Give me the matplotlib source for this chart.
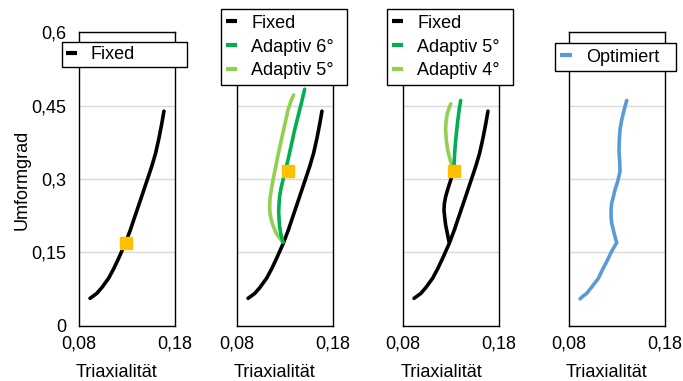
import matplotlib
matplotlib.use("Agg")
import matplotlib.pyplot as plt
from matplotlib.lines import Line2D

plt.rcParams['font.family'] = ['Liberation Sans', 'DejaVu Sans']
FS = 13

# ---- data (Triaxialität, Umformgrad) ----
fixed_x = [0.0915, 0.0950, 0.0985, 0.1038, 0.1108, 0.1160, 0.1213, 0.1283, 0.1335,
           0.1388, 0.1440, 0.1510, 0.1556, 0.1598, 0.1632, 0.1660, 0.1685]
fixed_y = [0.056, 0.061, 0.066, 0.078, 0.097, 0.116, 0.138, 0.169, 0.196,
           0.227, 0.257, 0.298, 0.325, 0.353, 0.383, 0.411, 0.439]

adapt6_x = [0.1279, 0.1258, 0.1244, 0.1238, 0.1234, 0.1238, 0.1244, 0.1258, 0.1279,
            0.1304, 0.1331, 0.1366, 0.1401, 0.1435, 0.1470, 0.1505]
adapt6_y = [0.171, 0.186, 0.203, 0.220, 0.233, 0.250, 0.264, 0.281, 0.298,
            0.319, 0.339, 0.370, 0.401, 0.428, 0.455, 0.484]

adapt5_x = [0.1279, 0.1244, 0.1210, 0.1179, 0.1158, 0.1144, 0.1140, 0.1144, 0.1158,
            0.1175, 0.1203, 0.1231, 0.1262, 0.1297, 0.1331, 0.1366, 0.1390]
adapt5_y = [0.171, 0.179, 0.189, 0.203, 0.216, 0.230, 0.244, 0.261, 0.278,
            0.298, 0.325, 0.353, 0.380, 0.411, 0.441, 0.462, 0.472]

# panel 3: 6° path up to the switch point, then 5° / 4°
adapt6s_x = [0.1279, 0.1262, 0.1244, 0.1234, 0.1227, 0.1231, 0.1244, 0.1269, 0.1297, 0.1321]
adapt6s_y = [0.172, 0.189, 0.206, 0.223, 0.237, 0.250, 0.264, 0.281, 0.298, 0.315]
adapt5b_x = [0.1325, 0.1331, 0.1338, 0.1349, 0.1363, 0.1376, 0.1387, 0.1401]
adapt5b_y = [0.315, 0.325, 0.353, 0.380, 0.407, 0.428, 0.445, 0.461]
adapt4_x = [0.1325, 0.1314, 0.1286, 0.1265, 0.1251, 0.1244, 0.1248, 0.1262, 0.1279, 0.1297]
adapt4_y = [0.315, 0.325, 0.343, 0.360, 0.380, 0.401, 0.418, 0.435, 0.445, 0.454]

opt_x = [0.0915, 0.0949, 0.0984, 0.1036, 0.1106, 0.1147, 0.1192, 0.1244, 0.1297,
         0.1279, 0.1262, 0.1244, 0.1238, 0.1238, 0.1244, 0.1262, 0.1279, 0.1307,
         0.1331, 0.1328, 0.1321, 0.1324, 0.1331, 0.1349, 0.1366, 0.1383, 0.1401]
opt_y = [0.055, 0.061, 0.066, 0.079, 0.097, 0.114, 0.131, 0.152, 0.170,
         0.182, 0.196, 0.210, 0.223, 0.237, 0.250, 0.264, 0.278, 0.295,
         0.315, 0.336, 0.356, 0.380, 0.401, 0.421, 0.435, 0.448, 0.461]

marker1 = (0.1290, 0.170)
marker2 = (0.1331, 0.317)
marker3 = (0.1331, 0.317)

xticks = [0.08, 0.18]
xticklabels = ['0,08', '0,18']
yticks = [0, 0.15, 0.3, 0.45, 0.6]
yticklabels = ['0', '0,15', '0,3', '0,45', '0,6']

BLACK = '#000000'
DGREEN = '#00B050'
LGREEN = '#92D050'
BLUE = '#5B9BD5'
ORANGE = '#FFC000'

W, H = 683, 381
fig = plt.figure(figsize=(W / 100, H / 100), dpi=100)

ax_top, ax_bot = 32.5, 325.7
lefts = [79, 237, 403, 569]
width = 96

axes = []
for i, l in enumerate(lefts):
    ax = fig.add_axes([l / W, 1 - ax_bot / H, width / W, (ax_bot - ax_top) / H])
    ax.set_xlim(0.08, 0.18)
    ax.set_ylim(0, 0.6)
    ax.set_xticks(xticks)
    ax.set_xticklabels(xticklabels, fontsize=FS)
    ax.set_yticks(yticks)
    if i == 0:
        ax.set_yticklabels(yticklabels, fontsize=FS)
    else:
        ax.set_yticklabels([])
    ax.tick_params(length=0, pad=9)
    ax.tick_params(axis='x', pad=7)
    ax.grid(axis='y', color='#d9d9d9', lw=1.0)
    ax.set_axisbelow(True)
    for s in ax.spines.values():
        s.set_color('black')
        s.set_linewidth(1.0)
    fig.text((l + width / 2 - 10) / W, 1 - 377 / H, 'Triaxialität', ha='center', va='baseline', fontsize=FS)
    axes.append(ax)

fig.text(21.7 / W, 1 - 180 / H, 'Umformgrad', rotation=90, ha='center', va='center', fontsize=FS)

LW = 2.6
MS = 8

def legend(ax, items, x0, y0, x1, bp=0.3):
    handles = [Line2D([], [], color=c, lw=3.0, solid_capstyle='butt') for c, _ in items]
    labels = [t for _, t in items]
    leg = ax.legend(handles, labels, loc='upper left',
                    bbox_to_anchor=(x0 / W, 1 - y0 / H - 0.001, (x1 - x0) / W, 0.001),
                    bbox_transform=fig.transFigure, mode='expand', borderaxespad=0,
                    fontsize=FS, handlelength=0.62, handletextpad=0.78, borderpad=bp,
                    labelspacing=0.38, fancybox=False, framealpha=1, edgecolor='black')
    leg.get_frame().set_linewidth(1.0)
    leg.set_zorder(10)

def line(ax, x, y, c):
    ax.plot(x, y, color=c, lw=LW, solid_capstyle='round', solid_joinstyle='round')

# panel 1
ax = axes[0]
line(ax, fixed_x, fixed_y, BLACK)
ax.plot(*marker1, marker='s', color=ORANGE, ms=MS, ls='none')
legend(ax, [(BLACK, 'Fixed')], 61.7, 42.3, 187.3, bp=0.22)

# panel 2
ax = axes[1]
line(ax, fixed_x, fixed_y, BLACK)
line(ax, adapt5_x, adapt5_y, LGREEN)
line(ax, adapt6_x, adapt6_y, DGREEN)
ax.plot(*marker2, marker='s', color=ORANGE, ms=MS, ls='none')
legend(ax, [(BLACK, 'Fixed'), (DGREEN, 'Adaptiv 6°'), (LGREEN, 'Adaptiv 5°')], 220.7, 9.3, 346.7)

# panel 3
ax = axes[2]
line(ax, fixed_x, fixed_y, BLACK)
line(ax, adapt6s_x, adapt6s_y, BLACK)
line(ax, adapt4_x, adapt4_y, LGREEN)
line(ax, adapt5b_x, adapt5b_y, DGREEN)
ax.plot(*marker3, marker='s', color=ORANGE, ms=MS, ls='none')
legend(ax, [(BLACK, 'Fixed'), (DGREEN, 'Adaptiv 5°'), (LGREEN, 'Adaptiv 4°')], 386.7, 9.3, 512.7)

# panel 4
ax = axes[3]
line(ax, opt_x, opt_y, BLUE)
legend(ax, [(BLUE, 'Optimiert')], 555, 43.3, 676, bp=0.3)

fig.savefig('out.png', dpi=100)
